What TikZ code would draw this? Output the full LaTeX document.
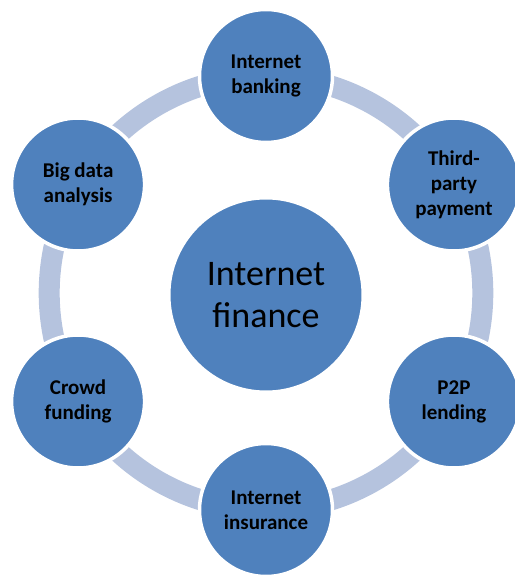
\documentclass[tikz,border=0pt]{standalone}
\usepackage{fontspec}
\setmainfont{Carlito}
\usetikzlibrary{backgrounds}
\definecolor{petalblue}{RGB}{79,129,189}
\definecolor{ringblue}{RGB}{181,195,222}

\begin{document}
\begin{tikzpicture}[
    hub/.style={circle,fill=petalblue,draw=white,line width=3pt,minimum size=194pt,inner sep=0pt,
        align=center,font=\fontsize{36}{42}\selectfont},
    petal/.style={circle,fill=petalblue,draw=white,line width=3.5pt,minimum size=133pt,inner sep=0pt,
        align=center,font=\fontsize{21}{25}\selectfont\bfseries},
    ring/.style={ringblue,line width=21pt}
]
\useasboundingbox (-266pt,-282pt) rectangle (248pt,293pt);

% Centre
\node[hub] (hub) at (0,-2pt) {Internet\\finance};

% Six petals round the centre
\foreach \ang/\nm/\txt in {90/bank/{Internet\\banking},
                            30/pay/{Third-\\party\\payment},
                           -30/ptp/{P2P\\lending},
                           -90/insure/{Internet\\insurance},
                          -150/crowd/{Crowd\\funding},
                           150/bigdata/{Big data\\analysis}} {
    \node[petal] (\nm) at (\ang:217pt) {\txt};
}

% Ring behind the petals
\begin{scope}[on background layer]
\foreach \a/\b in {bank/pay,pay/ptp,ptp/insure,insure/crowd,crowd/bigdata,bigdata/bank} {
    \draw[ring] (\a.center) to[bend left=30,looseness=0.91] (\b.center);
}
\end{scope}
\end{tikzpicture}
\end{document}
